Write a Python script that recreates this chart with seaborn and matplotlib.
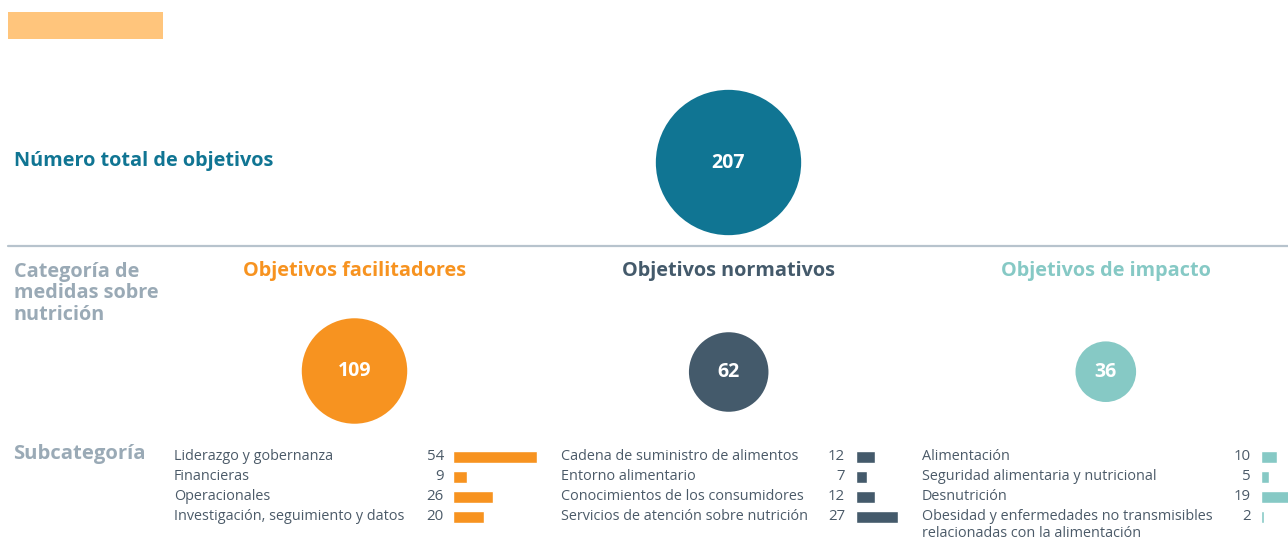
import numpy as np
import pandas as pd
import matplotlib
matplotlib.use("Agg")
import matplotlib.pyplot as plt
import seaborn as sns

# ---------------- data ----------------
total_label = "Número total de objetivos"
total_value = 207

categories = ["Objetivos facilitadores", "Objetivos normativos", "Objetivos de impacto"]
category_values = [109, 62, 36]

facil_labels = ["Liderazgo y gobernanza", "Financieras", "Operacionales",
                "Investigación, seguimiento y datos"]
facil_values = [54, 9, 26, 20]

norm_labels = ["Cadena de suministro de alimentos", "Entorno alimentario",
               "Conocimientos de los consumidores", "Servicios de atención sobre nutrición"]
norm_values = [12, 7, 12, 27]

impact_labels = ["Alimentación", "Seguridad alimentaria y nutricional", "Desnutrición",
                 "Obesidad y enfermedades no transmisibles\nrelacionadas con la alimentación"]
impact_values = [10, 5, 19, 2]

row_titles = ["Categoría de\nmedidas sobre\nnutrición", "Subcategoría"]

# ---------------- style ----------------
sns.set_theme(style="white")
plt.rcParams["font.family"] = ["Open Sans", "DejaVu Sans"]

C_TOTAL = "#107593"
C_FACIL = "#f79320"
C_NORM = "#445a6b"
C_IMP = "#86c9c5"
C_GRAY = "#9aaab6"
C_TEXT = "#4b5a68"
cat_colors = [C_FACIL, C_NORM, C_IMP]

W, H = 1288, 539
fig = plt.figure(figsize=(W / 100, H / 100), dpi=100)
ax = fig.add_axes([0, 0, 1, 1])
ax.set_xlim(0, W)
ax.set_ylim(H, 0)
ax.axis("off")

# top decorative block
ax.add_patch(plt.Rectangle((8, 12), 155, 27, color="#ffc57c", lw=0))

# divider
ax.plot([8, W], [246, 246], color="#b7c3cd", lw=1.6)

# ---------------- circles (area ∝ value) ----------------
k = 52.9  # points^2 per unit
circ = pd.DataFrame({
    "name": ["total"] + categories,
    "value": [total_value] + category_values,
    "x": [728.5, 354.5, 728.7, 1105.8],
    "y": [162.5, 371, 372, 371.7],
})
vmin, vmax = circ["value"].min(), circ["value"].max()
sns.scatterplot(data=circ, x="x", y="y", hue="name", size="value",
                sizes=(vmin * k, vmax * k), size_norm=(vmin, vmax),
                palette=[C_TOTAL] + cat_colors, linewidth=0, legend=False,
                ax=ax, zorder=3)
ax.set_xlim(0, W)
ax.set_ylim(H, 0)
ax.axis("off")
for _, r in circ.iterrows():
    ax.text(r["x"], r["y"], f"{r['value']}", color="white", fontsize=14,
            fontweight="bold", ha="center", va="center", zorder=4)

# ---------------- headings ----------------
HF = 14.3
ax.text(14, 161, total_label, color=C_TOTAL, fontsize=HF, fontweight="bold",
        ha="left", va="center")
ax.text(14, 293, row_titles[0], color=C_GRAY, fontsize=HF, fontweight="bold",
        ha="left", va="center", linespacing=1.1)
ax.text(13, 454, row_titles[1], color=C_GRAY, fontsize=14.6, fontweight="bold",
        ha="left", va="center")
for name, cx, col in zip(categories, [354.5, 728.5, 1106], cat_colors):
    ax.text(cx, 271, name, color=col, fontsize=HF, fontweight="bold",
            ha="center", va="center")

# ---------------- subcategory bars ----------------
PX_PER_UNIT = 1.55
groups = [
    (facil_labels, facil_values, C_FACIL, 174, 444, 453),
    (norm_labels, norm_values, C_NORM, 561, 845, 856),
    (impact_labels, impact_values, C_IMP, 922, 1251, 1261),
]
row0, row_h = 457, 20
for labels, values, col, lx, nx, bx in groups:
    n = len(values)
    ax_w = 120
    ib = fig.add_axes([bx / W, 1 - (row0 - row_h / 2 + n * row_h) / H,
                       ax_w / W, n * row_h / H])
    df = pd.DataFrame({"label": labels, "value": values})
    sns.barplot(data=df, x="value", y="label", orient="h", color=col,
                width=0.59, saturation=1, ax=ib)
    ib.set_xlim(0, ax_w / PX_PER_UNIT)
    ib.set_ylim(n - 0.5, -0.5)
    ib.axis("off")
    for i, (lab, v) in enumerate(zip(labels, values)):
        y = row0 + i * row_h
        ax.text(lx, y - 7.5, lab, color=C_TEXT, fontsize=10.4, ha="left",
                va="top", linespacing=1.14)
        ax.text(nx, y, f"{v}", color=C_TEXT, fontsize=10.8, ha="right",
                va="center")

fig.savefig("out.png", dpi=100)
